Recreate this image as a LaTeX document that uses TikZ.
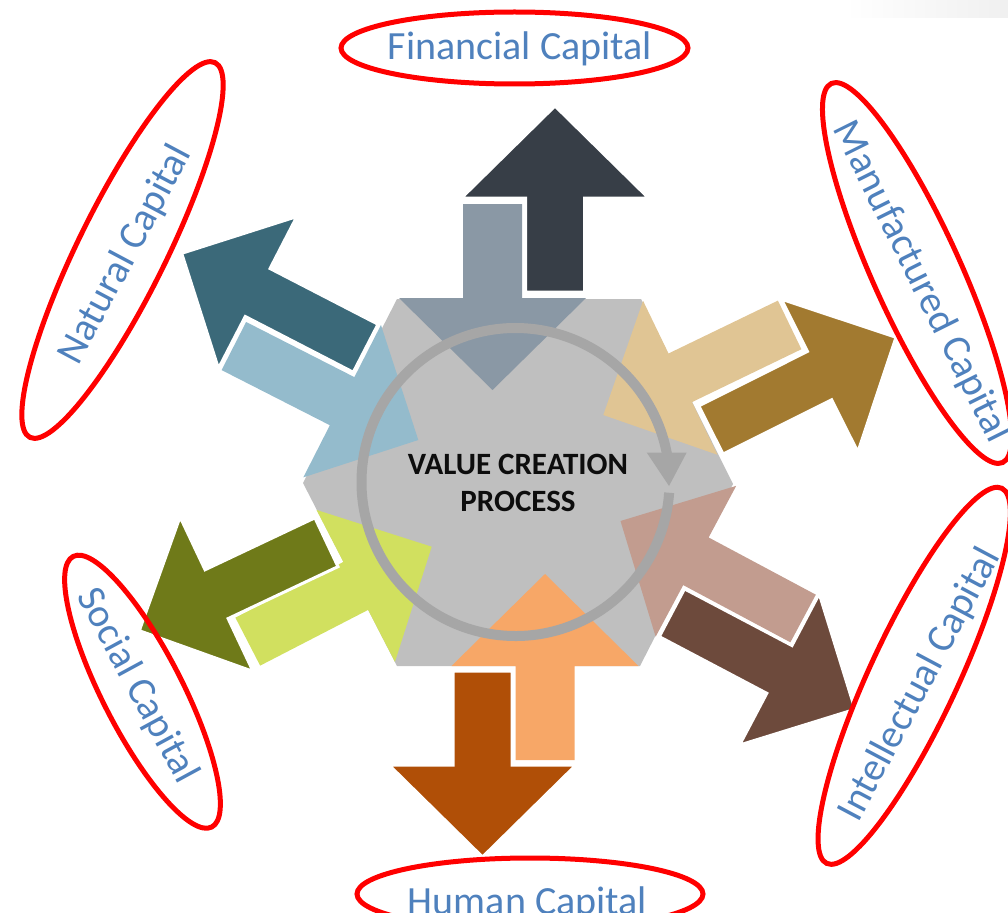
\documentclass[tikz,border=0pt]{standalone}
\usepackage{fontspec}
\setmainfont{Carlito}
\definecolor{hexgray}{HTML}{BFBFBF}
\definecolor{circgray}{HTML}{A6A6A6}
\definecolor{labelblue}{HTML}{4F81BD}
\definecolor{topOut}{HTML}{373E47}
\definecolor{topIn}{HTML}{8A98A5}
\definecolor{ulOut}{HTML}{3B6979}
\definecolor{ulIn}{HTML}{94BBCC}
\definecolor{urOut}{HTML}{A27A30}
\definecolor{urIn}{HTML}{E0C594}
\definecolor{llOut}{HTML}{6F7A19}
\definecolor{llIn}{HTML}{D1E05F}
\definecolor{lrOut}{HTML}{6D4A3C}
\definecolor{lrIn}{HTML}{C29C8F}
\definecolor{botOut}{HTML}{B04F07}
\definecolor{botIn}{HTML}{F7A767}
\tikzset{
  outarrow/.style={fill=#1, draw=white, line width=3pt, line join=miter},
  inarrow/.style={fill=#1},
  ring/.style={draw=red, line width=5pt},
  lbl/.style={text=labelblue, font=\fontsize{40}{48}\selectfont, inner sep=0pt},
  centertext/.style={align=center, text=black!95, inner sep=0pt,
    font=\bfseries\fontsize{31}{36.7}\selectfont},
  circline/.style={draw=circgray, line width=10pt},
}
% style, apex x, apex y, angle, total length, head length, head half width, shaft half width
\newcommand\capArrow[8]{%
  \path[#1, shift={(#2,#3)}, rotate=#4]
    (0,0) -- (-#6,#7) -- (-#6,#8) -- (-#5,#8) -- (-#5,-#8) -- (-#6,-#8) -- (-#6,-#7) -- cycle;}
\def\Tv{186}\def\Lv{92}\def\Hv{93.5}\def\Wv{29.5}
\def\Td{207}\def\Ld{85.5}\def\Hd{85.5}\def\Wd{27}
\begin{document}
\begin{tikzpicture}[x=1pt,y=-1pt]
\useasboundingbox (0,0) rectangle (1008,912);
\clip (0,0) rectangle (1008,912);
\fill[left color=white, right color=black!6] (845,0) rectangle (1008,18);
% central hexagon
\fill[hexgray] (397,299) -- (641,299) -- (733,484) -- (640,666) -- (397,666) -- (303,483) -- cycle;
% inward arrows
\capArrow{inarrow=topIn}{492.5}{390}{-90}{\Tv}{\Lv}{\Hv}{\Wv}
\capArrow{inarrow=botIn}{545}{574}{90}{\Tv}{\Lv}{\Hv}{\Wv}
\capArrow{inarrow=ulIn}{418.3}{440}{-27}{\Td}{\Ld}{\Hd}{\Wd}
\capArrow{inarrow=urIn}{603.3}{415}{205.8}{\Td}{\Ld}{\Hd}{\Wd}
\capArrow{inarrow=llIn}{431.7}{546.7}{27.3}{\Td}{\Ld}{\Hd}{\Wd}
\capArrow{inarrow=lrIn}{620.5}{521}{151.9}{\Td}{\Ld}{\Hd}{\Wd}
% outward arrows
\capArrow{outarrow=topOut}{555}{106}{90}{\Tv}{\Lv}{\Hv}{\Wv}
\capArrow{outarrow=botOut}{482.5}{857}{-90}{\Tv}{\Lv}{\Hv}{\Wv}
\capArrow{outarrow=ulOut}{181.7}{253.3}{152.7}{\Td}{\Ld}{\Hd}{\Wd}
\capArrow{outarrow=urOut}{896}{337.3}{26.6}{\Td}{\Ld}{\Hd}{\Wd}
\capArrow{outarrow=llOut}{139.3}{630.7}{205.3}{\Td}{\Ld}{\Hd}{\Wd}
\capArrow{outarrow=lrOut}{855}{709.3}{-27.8}{\Td}{\Ld}{\Hd}{\Wd}
% circular process arrow
\coordinate (cc) at (515.5,482);
\draw[circline] (cc) ++(4:154) arc[start angle=4, end angle=350, radius=154];
\fill[circgray] (646.7,452.5) -- (686.7,452.5) -- (669,486) -- cycle;
\node[centertext] (vcp) at (518,483) {VALUE CREATION\\PROCESS};
% red rings
\draw[ring] (514.5,48) ellipse[x radius=173.5, y radius=36];
\draw[ring] (530,894) ellipse[x radius=173, y radius=36];
\draw[ring, shift={(122.5,250)}, rotate=63.7] (0,0) ellipse[x radius=209, y radius=44];
\draw[ring, shift={(142.5,691.7)}, rotate=-62.9] (0,0) ellipse[x radius=152, y radius=40];
\draw[ring, shift={(917,273)}, rotate=-65.7] (0,0) ellipse[x radius=208, y radius=44];
\draw[ring, shift={(914.2,675.8)}, rotate=65] (0,0) ellipse[x radius=207, y radius=44];
% labels
\node[lbl, anchor=base] (fin) at (520,60) {Financial Capital};
\node[lbl, anchor=base] (hum) at (527.5,914) {Human Capital};
\node[lbl, rotate=62] (nat) at (126,255) {Natural Capital};
\node[lbl, rotate=-61.5] (soc) at (137,686) {Social Capital};
\node[lbl, rotate=-63.5] (man) at (921,282) {Manufactured Capital};
\node[lbl, rotate=62] (int) at (920,685) {Intellectual Capital};
\end{tikzpicture}
\end{document}
